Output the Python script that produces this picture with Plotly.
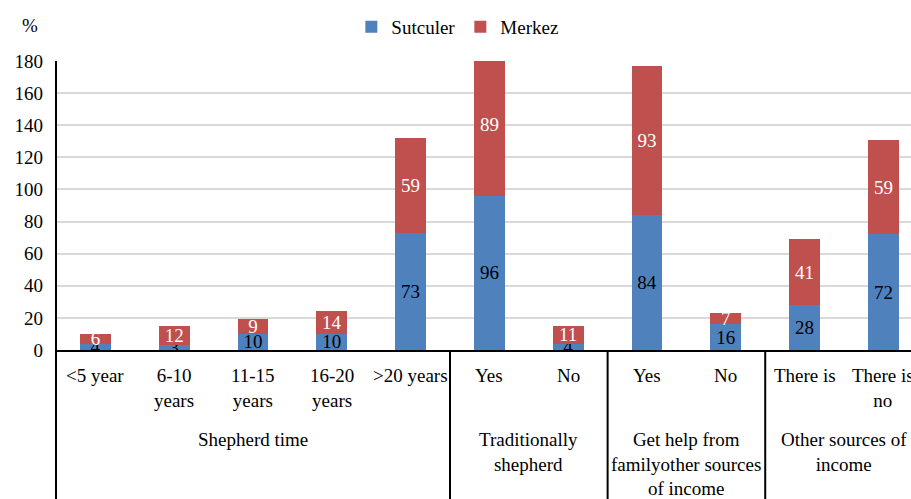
import plotly.graph_objects as go

# Categories (two levels) and values in %
categories = ["<5 year", "6-10<br>years", "11-15<br>years", "16-20<br>years", ">20 years",
              "Yes", "No", "Yes", "No", "There is", "There is<br>no"]
groups = ["Shepherd time", "Traditionally<br>shepherd",
          "Get help from<br>familyother sources<br>of income", "Other sources of<br>income"]
group_sizes = [5, 2, 2, 2]
sutculer = [4, 3, 10, 10, 73, 96, 4, 84, 16, 28, 72]
merkez = [6, 12, 9, 14, 59, 89, 11, 93, 7, 41, 59]
y_ticks = [0, 20, 40, 60, 80, 100, 120, 140, 160, 180]

FONT = "'Liberation Serif', 'Times New Roman', 'DejaVu Serif', serif"
BLUE = "#4F81BD"
RED = "#C0504D"

x = list(range(len(categories)))

fig = go.Figure()
fig.add_trace(go.Bar(
    x=x, y=sutculer, name="Sutculer", marker=dict(color=BLUE, line=dict(width=0)),
    text=[str(v) for v in sutculer], textposition="inside", insidetextanchor="middle",
    textangle=0, constraintext="none",
    textfont=dict(family=FONT, size=19, color="black"), width=0.39,
))
fig.add_trace(go.Bar(
    x=x, y=merkez, name="Merkez", marker=dict(color=RED, line=dict(width=0)),
    text=[str(v) for v in merkez], textposition="inside", insidetextanchor="middle",
    textangle=0, constraintext="none",
    textfont=dict(family=FONT, size=19, color="white"), width=0.39,
))

plot_h = 289
plot_w = 855
below = 149

shapes = []
# y axis line extended down through the category area
shapes.append(dict(type="line", xref="paper", yref="paper", x0=0, x1=0,
                   y0=1, y1=-below / plot_h, line=dict(color="black", width=2)))
# group separators and group titles
annotations = []
start = 0
for gi, (g, n) in enumerate(zip(groups, group_sizes)):
    end = start + n
    if gi < len(groups) - 1:
        shapes.append(dict(type="line", xref="x", yref="paper", x0=end - 0.5, x1=end - 0.5,
                           y0=0, y1=-below / plot_h, line=dict(color="black", width=2)))
    annotations.append(dict(x=(start + end - 1) / 2, y=0, xref="x", yref="paper",
                            text=g, showarrow=False, yanchor="top", yshift=-77,
                            font=dict(family=FONT, size=19, color="black")))
    start = end

# category labels
for xi, c in zip(x, categories):
    annotations.append(dict(x=xi, y=0, xref="x", yref="paper", text=c, showarrow=False,
                            yanchor="top", yshift=-13,
                            font=dict(family=FONT, size=19, color="black")))

# unit label above the y axis
annotations.append(dict(x=-26 / plot_w, y=1 + 35 / plot_h, xref="paper", yref="paper",
                        text="%", showarrow=False, xanchor="center", yanchor="middle",
                        font=dict(family=FONT, size=19, color="black")))

fig.update_layout(
    barmode="stack",
    width=911, height=499,
    margin=dict(l=56, r=0, t=61, b=below),
    paper_bgcolor="white", plot_bgcolor="white",
    font=dict(family=FONT, size=19, color="black"),
    showlegend=True,
    legend=dict(orientation="h", x=0.47, xanchor="center", y=1 + 34 / plot_h, yanchor="middle",
                font=dict(family=FONT, size=19, color="black"), traceorder="normal",
                itemwidth=30, tracegroupgap=0),
    uniformtext=dict(minsize=19, mode="show"),
    shapes=shapes,
    annotations=annotations,
    xaxis=dict(range=[-0.5, 10.35], showticklabels=False, showgrid=False, zeroline=False,
               showline=True, linecolor="black", linewidth=2, fixedrange=True),
    yaxis=dict(range=[0, 180], tickvals=y_ticks, showgrid=True, gridcolor="#d9d9d9",
               gridwidth=1.5, zeroline=False, showline=False, ticklabelstandoff=12,
               tickfont=dict(family=FONT, size=19, color="black"), fixedrange=True),
)

fig.write_html("out.html")
